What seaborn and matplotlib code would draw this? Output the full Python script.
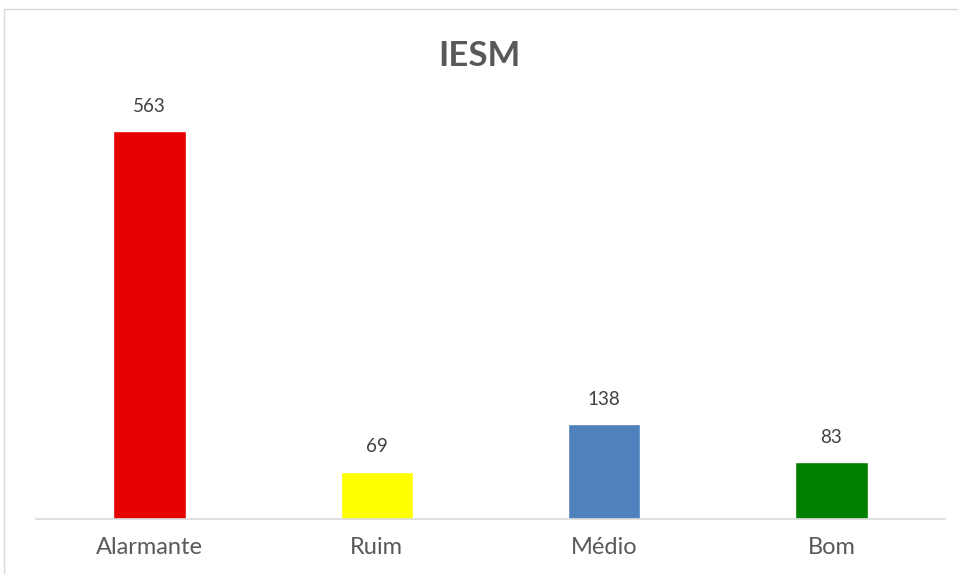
import matplotlib
matplotlib.use("Agg")
import matplotlib.pyplot as plt
import seaborn as sns
import pandas as pd
from matplotlib.patches import Rectangle

categories = ["Alarmante", "Ruim", "Médio", "Bom"]
values = [563, 69, 138, 83]
colors = ["#E60000", "#FFFF00", "#4F81BD", "#008000"]
title = "IESM"

sns.set_theme(style="white")
plt.rcParams["font.family"] = ["Lato", "DejaVu Sans"]

df = pd.DataFrame({"cat": categories, "val": values})

fig = plt.figure(figsize=(9.58, 5.74), dpi=100)
ax = fig.add_axes([36/958, (574-519)/574, 909/958, (519-106)/574])

sns.barplot(data=df, x="cat", y="val", hue="cat", palette=colors,
            width=0.32, legend=False, ax=ax, saturation=1, order=categories,
            hue_order=categories)

ax.set_ylim(0, 600)
ax.set_xlim(-0.5, 3.5)
ax.set_yticks([])
ax.set_xlabel("")
ax.set_ylabel("")
for s in ["top", "right", "left"]:
    ax.spines[s].set_visible(False)
ax.spines["bottom"].set_color("#d9d9d9")
ax.spines["bottom"].set_linewidth(1.2)
ax.tick_params(axis="x", length=0, pad=13, labelsize=17, labelcolor="#595959")

for i, v in enumerate(values):
    ax.text(i, v + 36, f"{v}", ha="center", va="center", fontsize=13.5, color="#404040")

fig.text(0.5, (574-56)/574, title, ha="center", va="center", fontsize=25,
         fontweight="bold", color="#595959")

fig.patches.append(Rectangle((4/958, -0.1), 1.2, (574-9)/574 + 0.1,
                             transform=fig.transFigure, fill=False,
                             edgecolor="#d9d9d9", linewidth=1.0))

fig.savefig("out.png", dpi=100)
